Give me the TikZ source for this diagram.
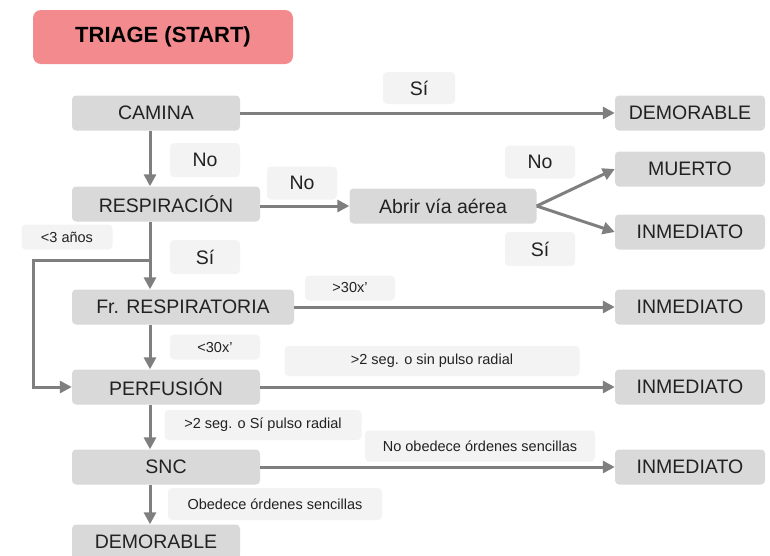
\documentclass[tikz,border=0pt]{standalone}
\usepackage{fontspec}
\setmainfont{Liberation Sans}
\usetikzlibrary{arrows.meta, positioning}

\definecolor{boxgray}{HTML}{D9D9D9}
\definecolor{taggray}{HTML}{F3F3F3}
\definecolor{linegray}{HTML}{7F7F7F}
\definecolor{titlered}{HTML}{F38A8D}
\definecolor{textgray}{HTML}{222222}

\tikzset{
  boxnode/.style={fill=boxgray, rounded corners=4pt, minimum height=35pt, inner sep=0pt, text=textgray, font=\fontsize{19.5}{21}\selectfont},
  tagnode/.style={fill=taggray, rounded corners=4pt, inner sep=0pt, text=textgray, font=\fontsize{19.5}{21}\selectfont},
  smalltag/.style={tagnode, font=\fontsize{14.5}{16}\selectfont},
  flow/.style={draw=linegray, line width=3pt, -{Triangle[length=12pt,width=12pt]}}
}

\begin{document}
\begin{tikzpicture}[x=1pt,y=-1pt]
    \useasboundingbox (0,0) rectangle (770,555);

    % Title
    \node[fill=titlered, rounded corners=8pt, minimum width=260pt, minimum height=54pt,
          font=\fontsize{22}{24}\selectfont\bfseries] (title) at (163,37) {TRIAGE (START)};

    % Left column
    \node[boxnode, minimum width=168pt] (camina) at (156,113) {CAMINA};
    \node[boxnode, minimum width=188pt] (resp) at (166,204) {RESPIRACIÓN};
    \node[boxnode, minimum width=222pt] (frresp) at (183,307) {Fr. RESPIRATORIA};
    \node[boxnode, minimum width=188pt] (perf) at (166,387) {PERFUSIÓN};
    \node[boxnode, minimum width=188pt] (snc) at (166,467) {SNC};
    \node[boxnode, minimum width=168pt] (demoB) at (156,542) {DEMORABLE};

    % Middle
    \node[boxnode, minimum width=187pt] (abrir) at (443,206) {Abrir vía aérea};

    % Right column
    \node[boxnode, minimum width=150pt] (demoA) at (690,113) {DEMORABLE};
    \node[boxnode, minimum width=150pt] (muerto) at (690,169) {MUERTO};
    \node[boxnode, minimum width=150pt] (inmA) at (690,232) {INMEDIATO};
    \node[boxnode, minimum width=150pt] (inmB) at (690,307) {INMEDIATO};
    \node[boxnode, minimum width=150pt] (inmC) at (690,387) {INMEDIATO};
    \node[boxnode, minimum width=150pt] (inmD) at (690,467) {INMEDIATO};

    % Labels
    \node[tagnode, minimum width=72pt, minimum height=32pt] (siA) at (419,88) {Sí};
    \node[tagnode, minimum width=70pt, minimum height=34pt] (noA) at (205,160) {No};
    \node[tagnode, minimum width=70pt, minimum height=33pt] (noB) at (302,183) {No};
    \node[tagnode, minimum width=70pt, minimum height=33pt] (noC) at (540,162) {No};
    \node[tagnode, minimum width=70pt, minimum height=34pt] (siC) at (540,249) {Sí};
    \node[tagnode, minimum width=70pt, minimum height=34pt] (siB) at (205,257) {Sí};
    \node[smalltag, minimum width=91pt, minimum height=25pt] (menos3) at (67,237) {<3 años};
    \node[smalltag, minimum width=90pt, minimum height=25pt] (mas30) at (350,288) {>30x'};
    \node[smalltag, minimum width=90pt, minimum height=25pt] (menos30) at (215,347) {<30x'};
    \node[smalltag, minimum width=295pt, minimum height=30pt] (sinpulso) at (432,361) {>2 seg. o sin pulso radial};
    \node[smalltag, minimum width=197pt, minimum height=30pt] (sipulso) at (263,425) {>2 seg. o Sí pulso radial};
    \node[smalltag, minimum width=230pt, minimum height=31pt] (noobed) at (480,446) {No obedece órdenes sencillas};
    \node[smalltag, minimum width=214pt, minimum height=32pt] (obed) at (275,504) {Obedece órdenes sencillas};

    % Stem and loop points
    \coordinate (stem) at (150,0);
    \coordinate (loopx) at (33,0);
    \coordinate (split) at (150,260);

    % Connectors
    \draw[flow] (camina.east) -- (demoA.west);
    \draw[flow] (camina.south -| stem) -- (resp.north -| stem);
    \draw[flow] (resp.east |- abrir.west) -- (abrir.west);
    \draw[flow] (abrir.east) -- (muerto.west);
    \draw[flow] (abrir.east) -- (inmA.west);
    \draw[flow] (resp.south -| stem) -- (frresp.north -| stem);
    \draw[flow] (split) -- (split -| loopx) |- (perf.west);
    \draw[flow] (frresp.east) -- (inmB.west);
    \draw[flow] (frresp.south -| stem) -- (perf.north -| stem);
    \draw[flow] (perf.east) -- (inmC.west);
    \draw[flow] (perf.south -| stem) -- (snc.north -| stem);
    \draw[flow] (snc.east) -- (inmD.west);
    \draw[flow] (snc.south -| stem) -- (demoB.north -| stem);
\end{tikzpicture}
\end{document}
